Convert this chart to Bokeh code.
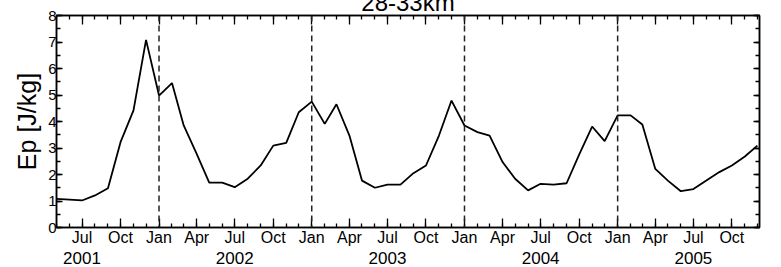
import pandas as pd
from bokeh.plotting import figure
from bokeh.models import (FixedTicker, CustomJSTickFormatter, LinearAxis, Span,
                          Range1d, ColumnDataSource)
from bokeh.embed import file_html
from bokeh.resources import INLINE

# ---- data (monthly, May 2001 - Dec 2005) ----
months = pd.date_range("2001-05-01", "2005-12-01", freq="MS")
ep = [1.08, 1.05, 1.02, 1.21, 1.48, 3.22, 4.42, 7.08,
      4.98, 5.45, 3.85, 2.78, 1.69, 1.69, 1.52, 1.84, 2.34, 3.09, 3.19, 4.35,
      4.75, 3.91, 4.65, 3.47, 1.77, 1.50, 1.62, 1.62, 2.05, 2.34, 3.47, 4.79,
      3.85, 3.60, 3.47, 2.47, 1.84, 1.40, 1.65, 1.62, 1.67, 2.75, 3.81, 3.26,
      4.23, 4.23, 3.89, 2.21, 1.77, 1.37, 1.45, 1.77, 2.09, 2.34, 2.68, 3.09]
year_starts = ["2002-01-01", "2003-01-01", "2004-01-01", "2005-01-01"]
year_label_dates = ["2001-07-01", "2002-07-01", "2003-07-01", "2004-07-01", "2005-07-01"]
x_start, x_end = "2001-05-01", "2005-12-06"
y_ticks = [0, 1, 2, 3, 4, 5, 6, 7, 8]
title_text = "28-33km"
y_label = "Ep [J/kg]"


def ms(d):
    return pd.Timestamp(d).value / 1e6


FONT = "Liberation Sans"

src = ColumnDataSource(dict(x=months, y=ep))

p = figure(width=765, height=284, x_axis_type="datetime",
           output_backend="svg", toolbar_location=None,
           x_range=Range1d(ms(x_start), ms(x_end)), y_range=Range1d(0, 8),
           min_border_left=56, min_border_right=6, min_border_top=0,
           min_border_bottom=43,
           styles={"margin-top": "-14px", "margin-bottom": "-17px"})
p.xgrid.visible = False
p.ygrid.visible = False
p.outline_line_color = "black"
p.outline_line_width = 1.5
p.background_fill_color = "white"
p.border_fill_color = "white"

# title (its top is cut off by the window edge, as in the original)
p.title.text = title_text
p.title.text_font = FONT
p.title.text_font_size = "24px"
p.title.text_font_style = "normal"
p.title.text_color = "black"
p.title.align = "center"
p.title.offset = 4
p.title.standoff = 0

# tickers
major_x = [ms(d) for d in pd.date_range("2001-07-01", "2005-10-01", freq="3MS")]
minor_x = [ms(d) for d in pd.date_range("2001-05-01", "2005-12-01", freq="MS")]
x_ticker = FixedTicker(ticks=major_x, minor_ticks=minor_x)
y_ticker = FixedTicker(ticks=y_ticks,
                       minor_ticks=[v / 2 for v in range(0, 17)])

month_fmt = CustomJSTickFormatter(code="""
const names = ["Jan","Feb","Mar","Apr","May","Jun","Jul","Aug","Sep","Oct","Nov","Dec"];
return names[new Date(tick).getUTCMonth()];
""")
year_fmt = CustomJSTickFormatter(code="""
return String(new Date(tick).getUTCFullYear());
""")


def style_axis(ax, major_in=7, minor_in=4):
    ax.axis_line_color = "black"
    ax.axis_line_width = 1.5
    ax.major_tick_in = major_in
    ax.major_tick_out = 0
    ax.minor_tick_in = minor_in
    ax.minor_tick_out = 0
    ax.major_tick_line_color = "black"
    ax.minor_tick_line_color = "black"
    ax.major_tick_line_width = 1.3
    ax.minor_tick_line_width = 1.3
    ax.major_label_text_font = FONT
    ax.major_label_text_color = "black"


# bottom month axis
xa = p.xaxis[0]
xa.ticker = x_ticker
xa.formatter = month_fmt
style_axis(xa, 9, 4)
xa.major_label_text_font_size = "16px"
xa.major_label_standoff = 1

# second bottom axis for years
ya2 = LinearAxis(ticker=FixedTicker(ticks=[ms(d) for d in year_label_dates]),
                 formatter=year_fmt)
ya2.axis_line_color = None
ya2.major_tick_line_color = None
ya2.minor_tick_line_color = None
ya2.major_tick_in = 0
ya2.major_tick_out = 0
ya2.major_label_standoff = 3
ya2.major_label_text_font = FONT
ya2.major_label_text_font_size = "17px"
ya2.major_label_text_color = "black"
p.add_layout(ya2, "below")

# left axis
la = p.yaxis[0]
la.ticker = y_ticker
style_axis(la, 6, 4)
la.major_label_text_font_size = "15px"
la.major_label_standoff = 0
la.axis_label = y_label
la.axis_label_text_font = FONT
la.axis_label_text_font_size = "25px"
la.axis_label_text_font_style = "normal"
la.axis_label_text_color = "black"
la.axis_label_standoff = 4

# top and right axes (ticks only, no labels drawn)
ta = LinearAxis(ticker=x_ticker)
style_axis(ta, 9, 4)
ta.major_label_text_font_size = "1px"
ta.major_label_text_color = None
ta.major_label_standoff = 0
p.add_layout(ta, "above")

ra = LinearAxis(ticker=y_ticker)
style_axis(ra, 6, 4)
ra.major_label_text_font_size = "1px"
ra.major_label_text_color = None
ra.major_label_standoff = 0
p.add_layout(ra, "right")

# dashed year separators
for d in year_starts:
    p.add_layout(Span(location=ms(d), dimension="height", line_color="#222222",
                      line_width=1.5, line_dash="6 4"))

# data line
p.line("x", "y", source=src, line_color="black", line_width=1.8)

open("out.html", "w").write(file_html(p, INLINE))
